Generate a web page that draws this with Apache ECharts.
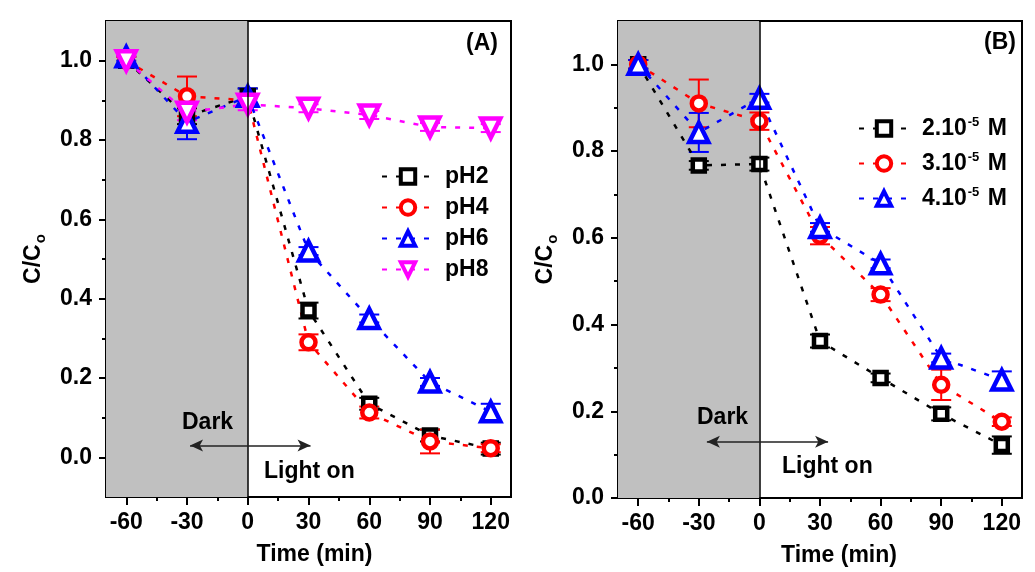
<!DOCTYPE html>
<html>
<head>
<meta charset="utf-8">
<script src="https://cdn.jsdelivr.net/npm/echarts@6/dist/echarts.min.js"></script>
<style>
  html, body { margin: 0; padding: 0; background: #fff; }
  #chart { width: 1035px; height: 572px; }
</style>
</head>
<body>
<div id="chart"></div>
<script>
// time points (min)
const times = [-60, -30, 0, 30, 60, 90, 120]
const xMajorTicks = [-60, -30, 0, 30, 60, 90, 120]
const xMinorTicks = [-45, -15, 15, 45, 75, 105]
const yMajorTicks = [0, 0.2, 0.4, 0.6, 0.8, 1.0]
const yMinorTicks = [0.1, 0.3, 0.5, 0.7, 0.9]

// panel A: effect of pH
const phNames = ['pH2', 'pH4', 'pH6', 'pH8']
const pH2 = [1.00, 0.86, 0.91, 0.37, 0.135, 0.055, 0.022]
const pH2Err = [0.01, 0.02, 0.02, 0.02, 0.015, 0.015, 0.015]
const pH4 = [1.00, 0.91, 0.90, 0.29, 0.113, 0.04, 0.023]
const pH4Err = [0.01, 0.05, 0.015, 0.02, 0.015, 0.03, 0.01]
const pH6 = [1.01, 0.845, 0.91, 0.52, 0.35, 0.19, 0.115]
const pH6Err = [0.01, 0.043, 0.02, 0.01, 0.01, 0.01, 0.02]
const pH8 = [1.00, 0.87, 0.89, 0.88, 0.863, 0.833, 0.83]
const pH8Err = [0.01, 0.02, 0.015, 0.01, 0.01, 0.01, 0.01]

// panel B: effect of concentration
const concNames = ['2.10-5 M', '3.10-5 M', '4.10-5 M']
const c2 = [1.00, 0.767, 0.77, 0.362, 0.277, 0.194, 0.122]
const c2Err = [0.01, 0.01, 0.015, 0.015, 0.01, 0.015, 0.02]
const c3 = [1.00, 0.91, 0.869, 0.605, 0.469, 0.261, 0.176]
const c3Err = [0.01, 0.055, 0.02, 0.02, 0.015, 0.035, 0.01]
const c4 = [1.00, 0.843, 0.922, 0.624, 0.54, 0.323, 0.272]
const c4Err = [0.01, 0.045, 0.01, 0.01, 0.01, 0.01, 0.02]

const FONT = 'Liberation Sans, Arial, sans-serif'
const boldText = { fontFamily: FONT, fontWeight: 'bold', fontSize: 23, color: '#000' }

function pairs (vals) {
  return times.map((t, i) => [t, vals[i]])
}

function errData (vals, errs) {
  return times.map((t, i) => [t, vals[i], errs[i]])
}

function xAxesFor (grid) {
  return [
    {
      type: 'value', gridIndex: grid, min: -70, max: 130,
      name: 'Time (min)', nameLocation: 'middle', nameGap: 46,
      nameTextStyle: Object.assign({}, boldText, { padding: [0, 0, 0, grid === 0 ? 12 : 38] }),
      axisLine: { onZero: false, lineStyle: { color: '#000', width: 2 } },
      axisTick: { inside: false, length: 8, lineStyle: { width: 2, color: '#000' }, customValues: xMajorTicks },
      axisLabel: Object.assign({}, boldText, { margin: 14, customValues: xMajorTicks }),
      splitLine: { show: false }
    },
    {
      type: 'value', gridIndex: grid, min: -70, max: 130, position: 'bottom',
      axisLine: { show: false, onZero: false },
      axisTick: { length: 4, lineStyle: { width: 2, color: '#000' }, customValues: xMinorTicks },
      axisLabel: { show: false },
      splitLine: { show: false }
    }
  ]
}

function yAxesFor (grid, min) {
  return [
    {
      type: 'value', gridIndex: grid, min: min, max: 1.1,
      name: '{a|C/C}{s|o}', nameLocation: 'middle', nameRotate: 90, nameGap: 58,
      nameTextStyle: {
        rich: {
          a: { fontFamily: FONT, fontWeight: 'bold', fontSize: 23, color: '#000' },
          s: { fontFamily: FONT, fontWeight: 'bold', fontSize: 15, color: '#000', padding: [14, 0, 0, 1] }
        }
      },
      axisLine: { onZero: false, lineStyle: { color: '#000', width: 2 } },
      axisTick: { length: 7, lineStyle: { width: 2, color: '#000' }, customValues: yMajorTicks },
      axisLabel: Object.assign({}, boldText, {
        margin: 14, customValues: yMajorTicks,
        formatter: v => v.toFixed(1)
      }),
      splitLine: { show: false }
    },
    {
      type: 'value', gridIndex: grid, min: min, max: 1.1, position: 'left',
      axisLine: { show: false, onZero: false },
      axisTick: { length: 4, lineStyle: { width: 2, color: '#000' }, customValues: yMinorTicks },
      axisLabel: { show: false },
      splitLine: { show: false }
    }
  ]
}

function errorBars (axis, vals, errs, color) {
  return {
    type: 'custom',
    xAxisIndex: axis, yAxisIndex: axis,
    silent: true,
    z: 3,
    data: errData(vals, errs),
    encode: { x: 0, y: 1 },
    renderItem (params, api) {
      const x = api.value(0)
      const y = api.value(1)
      const e = api.value(2)
      const top = api.coord([x, y + e])
      const bot = api.coord([x, y - e])
      const hw = 10
      const style = { stroke: color, lineWidth: 2 }
      return {
        type: 'group',
        children: [
          { type: 'line', shape: { x1: top[0], y1: top[1], x2: bot[0], y2: bot[1] }, style },
          { type: 'line', shape: { x1: top[0] - hw, y1: top[1], x2: top[0] + hw, y2: top[1] }, style },
          { type: 'line', shape: { x1: bot[0] - hw, y1: bot[1], x2: bot[0] + hw, y2: bot[1] }, style }
        ]
      }
    }
  }
}

function lineSeries (name, axis, vals, color, symbol, size, rotate) {
  return {
    name: name,
    type: 'line',
    xAxisIndex: axis, yAxisIndex: axis,
    data: pairs(vals),
    symbol: symbol,
    symbolSize: size,
    symbolRotate: rotate || 0,
    showSymbol: true,
    z: 4,
    itemStyle: { color: '#fff', borderColor: color, borderWidth: 4.5 },
    lineStyle: { color: color, width: 2.5, type: [5, 9] }
  }
}

function backdrop (axis, arrowY, arrowFrom, arrowTo) {
  // dark period shading, light-on line and the Dark / Light on arrow
  return {
    type: 'line',
    xAxisIndex: axis, yAxisIndex: axis,
    data: [],
    silent: true,
    z: 1,
    markArea: {
      silent: true,
      itemStyle: { color: '#c0c0c0' },
      data: [[{ xAxis: -70 }, { xAxis: 0 }]]
    },
    markLine: {
      silent: true,
      animation: false,
      symbol: 'none',
      label: { show: false },
      data: [
        { xAxis: 0, lineStyle: { color: '#000', width: 1.5, type: 'solid' } },
        [
          { coord: [arrowFrom, arrowY], symbol: 'arrow', symbolSize: [9, 13], lineStyle: { color: '#222', width: 1.5, type: 'solid' } },
          { coord: [arrowTo, arrowY], symbol: 'arrow', symbolSize: [9, 13] }
        ]
      ]
    }
  }
}

const colors = ['#000000', '#ff0000', '#0000ff', '#ff00ff']

let chart = echarts.init(document.getElementById('chart'))
let option = {
  backgroundColor: '#fff',
  animation: false,
  grid: [
    { left: 106, top: 21, width: 405, height: 476, show: true, borderColor: '#000', borderWidth: 2, backgroundColor: 'transparent' },
    { left: 618, top: 21, width: 404, height: 477, show: true, borderColor: '#000', borderWidth: 2, backgroundColor: 'transparent' }
  ],
  xAxis: xAxesFor(0).concat(xAxesFor(1)).map((a, i) => Object.assign(a, { gridIndex: i < 2 ? 0 : 1 })),
  yAxis: yAxesFor(0, -0.1).concat(yAxesFor(1, 0)).map((a, i) => Object.assign(a, { gridIndex: i < 2 ? 0 : 1 })),
  legend: [
    {
      data: phNames,
      orient: 'vertical',
      left: 376, top: 160,
      itemWidth: 52, itemHeight: 18, itemGap: 8,
      itemStyle: { borderWidth: 4 },
      textStyle: Object.assign({}, boldText, { padding: [0, 0, 0, 6] }),
      selectedMode: false
    },
    {
      data: concNames,
      orient: 'vertical',
      left: 853, top: 111,
      itemWidth: 50, itemHeight: 18, itemGap: 11,
      itemStyle: { borderWidth: 4 },
      selectedMode: false,
      formatter: name => '{n|' + name.split('-5')[0] + '}{sup|-5}{n| M}',
      textStyle: {
        padding: [0, 0, 0, 8],
        rich: {
          n: { fontFamily: FONT, fontWeight: 'bold', fontSize: 23, color: '#000' },
          sup: { fontFamily: FONT, fontWeight: 'bold', fontSize: 13, color: '#000', padding: [0, 2, 12, 1] }
        }
      }
    }
  ],
  graphic: [
    { type: 'text', z: 100, left: 466, top: 32, style: { text: '(A)', font: 'bold 23px ' + FONT, fill: '#000' } },
    { type: 'text', z: 100, left: 984, top: 31, style: { text: '(B)', font: 'bold 23px ' + FONT, fill: '#000' } },
    { type: 'text', z: 100, left: 182, top: 411, style: { text: 'Dark', font: 'bold 23px ' + FONT, fill: '#000' } },
    { type: 'text', z: 100, left: 264, top: 460, style: { text: 'Light on', font: 'bold 23px ' + FONT, fill: '#000' } },
    { type: 'text', z: 100, left: 697, top: 406, style: { text: 'Dark', font: 'bold 23px ' + FONT, fill: '#000' } },
    { type: 'text', z: 100, left: 782, top: 455, style: { text: 'Light on', font: 'bold 23px ' + FONT, fill: '#000' } }
  ],
  series: [
    backdrop(0, 0.03, -28.5, 31),
    backdrop(2, 0.13, -26, 34),
    errorBars(0, pH2, pH2Err, colors[0]),
    lineSeries(phNames[0], 0, pH2, colors[0], 'rect', 12),
    errorBars(0, pH4, pH4Err, colors[1]),
    lineSeries(phNames[1], 0, pH4, colors[1], 'circle', 14),
    errorBars(0, pH6, pH6Err, colors[2]),
    lineSeries(phNames[2], 0, pH6, colors[2], 'triangle', 19),
    errorBars(0, pH8, pH8Err, colors[3]),
    lineSeries(phNames[3], 0, pH8, colors[3], 'triangle', 19, 180),
    errorBars(2, c2, c2Err, colors[0]),
    lineSeries(concNames[0], 2, c2, colors[0], 'rect', 12),
    errorBars(2, c3, c3Err, colors[1]),
    lineSeries(concNames[1], 2, c3, colors[1], 'circle', 14),
    errorBars(2, c4, c4Err, colors[2]),
    lineSeries(concNames[2], 2, c4, colors[2], 'triangle', 19)
  ]
}
chart.setOption(option)
window.onresize = function () {
  chart.resize()
}
</script>
</body>
</html>
